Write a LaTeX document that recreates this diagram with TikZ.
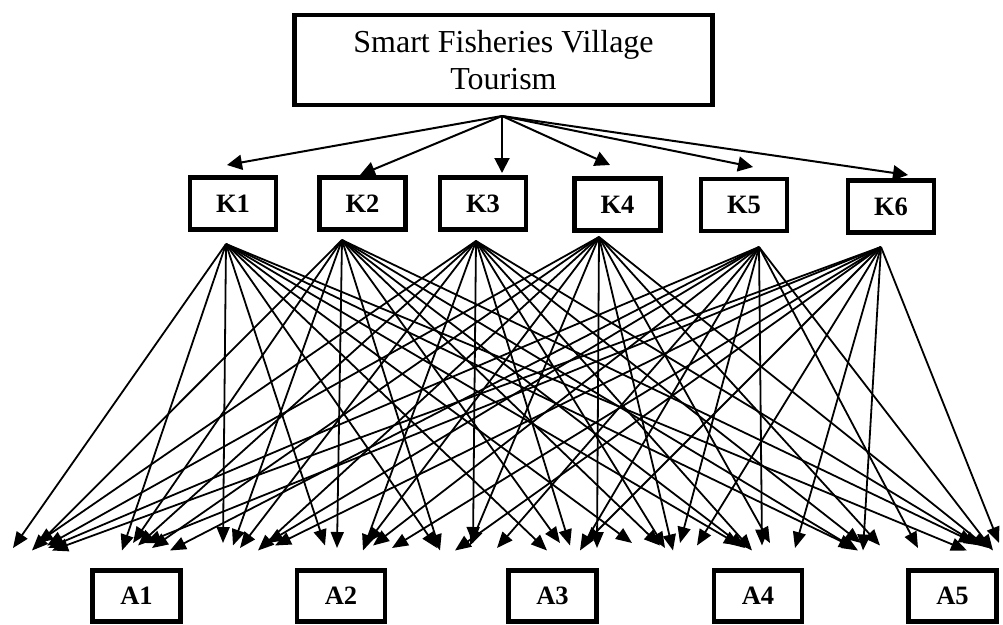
\documentclass[tikz,border=0pt]{standalone}
\usepackage{fontspec}
\setmainfont{Liberation Serif}
\usetikzlibrary{arrows.meta}
\begin{document}
\begin{tikzpicture}[x=1pt,y=-1pt,
  box/.style={draw,line width=4.8pt,rectangle,inner sep=0pt},
  kbox/.style={box,minimum width=86pt,minimum height=52pt,font=\fontsize{26.5}{30}\selectfont\bfseries},
  abox/.style={box,minimum width=88pt,minimum height=51pt,font=\fontsize{26.5}{30}\selectfont\bfseries},
  topar/.style={line width=2pt,-{Triangle[length=15pt,width=15pt]}},
  fan/.style={line width=1.8pt,-{Triangle[length=16pt,width=13pt]}}]
\useasboundingbox (0,0) rectangle (1003,624);
\fill[white] (0,0) rectangle (1003,624);

% top box
\node[box,minimum width=418pt,minimum height=90pt,align=center,
      font=\fontsize{32}{37}\selectfont] (top) at (503.5,60)
      {Smart Fisheries Village\\Tourism};

% K boxes
\node[kbox] (K1) at (233,203.5) {K1};
\node[kbox] (K2) at (362.5,203.5) {K2};
\node[kbox] (K3) at (483,203.5) {K3};
\node[kbox] (K4) at (617.5,204.5) {K4};
\node[kbox] (K5) at (744,205) {K5};
\node[kbox] (K6) at (891,206.5) {K6};

% A boxes
\node[abox] (A1) at (136.5,596) {A1};
\node[abox] (A2) at (341,596) {A2};
\node[abox] (A3) at (552.5,596) {A3};
\node[abox] (A4) at (758,596) {A4};
\node[abox] (A5) at (952.5,596) {A5};

% arrows from the top
\coordinate (hub) at (502,116);
\coordinate (k1in) at (227,165);
\coordinate (k2in) at (360,175);
\coordinate (k3in) at (502,173);
\coordinate (k4in) at (610,165);
\coordinate (k5in) at (753,167);
\coordinate (k6in) at (908,175);
\foreach \i in {1,...,6}{\draw[topar] (hub) -- (k\i in);}

% fan sources
\coordinate (k1o) at (226,244);
\coordinate (k2o) at (342,240);
\coordinate (k3o) at (476,241);
\coordinate (k4o) at (599,237);
\coordinate (k5o) at (759,247);
\coordinate (k6o) at (881,247);

\foreach \k/\list in {
  1/{13,122,223,325,437,547,632,740,855,967},
  2/{32,133,233,337,440,560,660,745,858,975},
  3/{37,138,240,363,473,570,665,752,861,980},
  4/{47,152,258,367,470,597,673,770,880,988},
  5/{48,170,267,373,497,580,680,762,918,993},
  6/{52,145,275,392,455,585,697,795,863,999}}{
  \foreach \x [count=\i] in \list {
    \pgfmathsetmacro\ty{543+mod(\i+\k,4)*2.5}
    \coordinate (t\k-\i) at (\x,\ty);
    \draw[fan] (k\k o) -- (t\k-\i);
  }
}
\end{tikzpicture}
\end{document}
